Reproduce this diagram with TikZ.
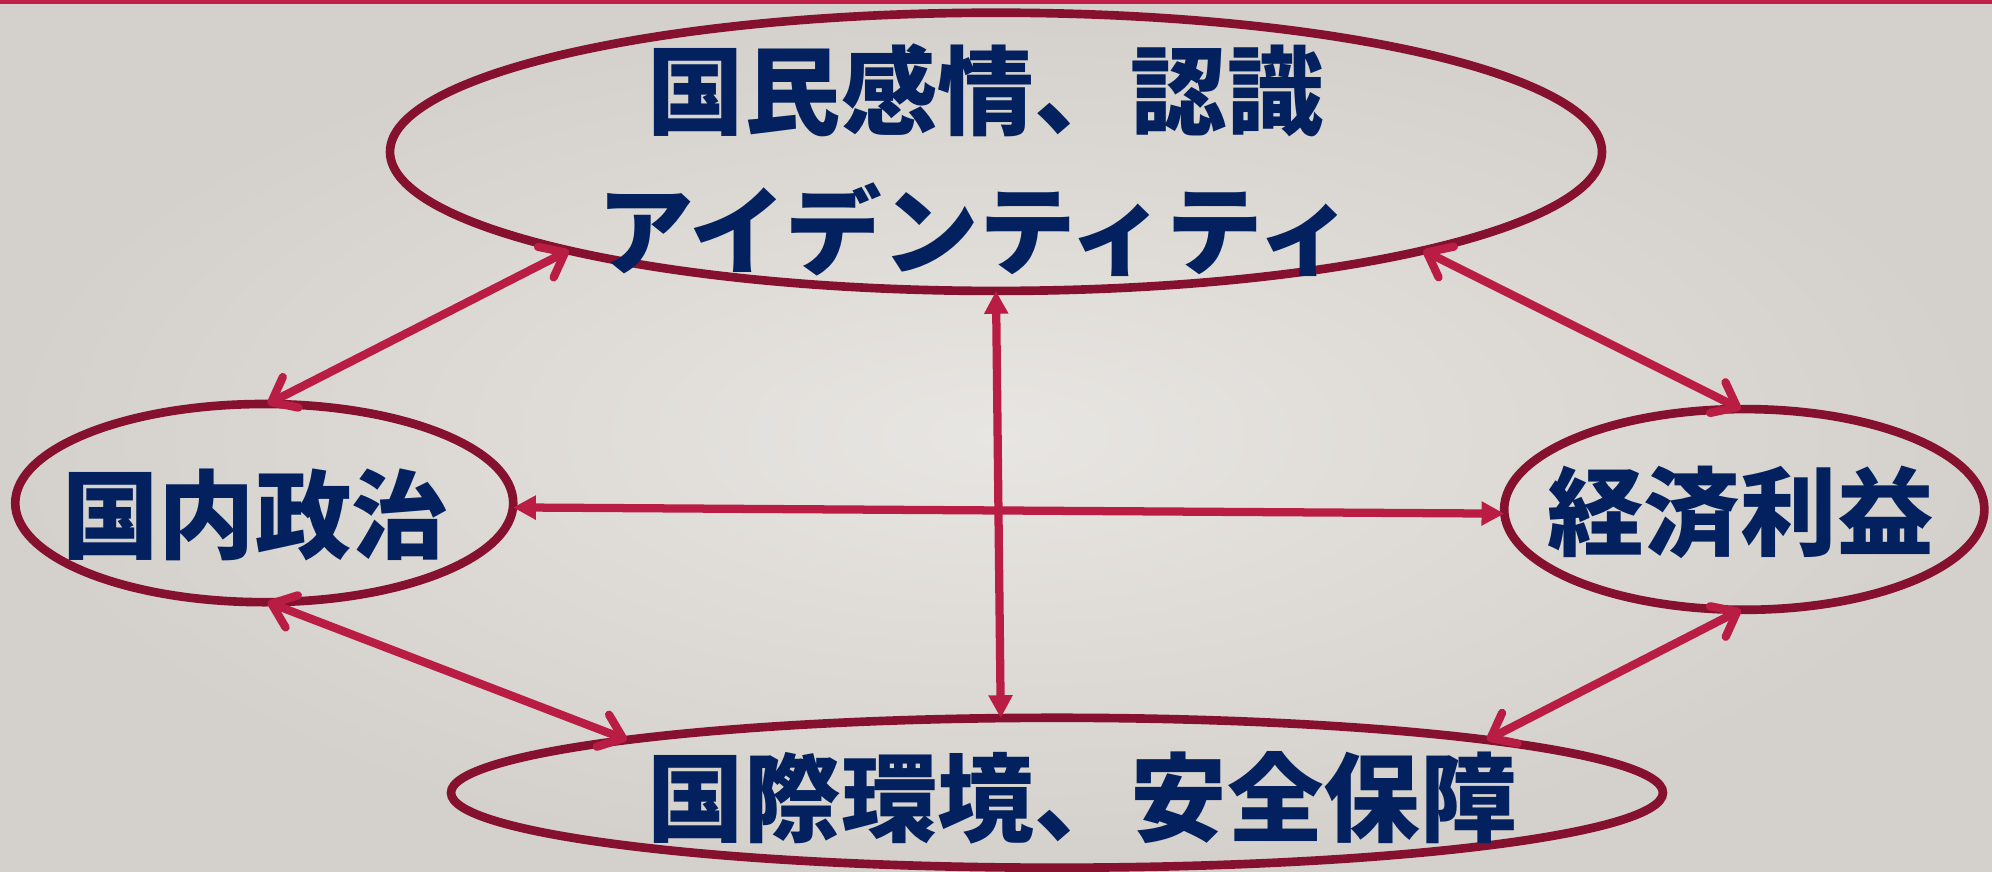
\documentclass[tikz,border=0pt]{standalone}
\usepackage{fontspec}
\newfontfamily\cjk{Noto Sans CJK JP}
\usetikzlibrary{shapes.geometric,arrows.meta}
\definecolor{bgin}{HTML}{E8E6E2}
\definecolor{bgout}{HTML}{D4D0CB}
\definecolor{ringc}{HTML}{85112F}
\definecolor{arrc}{HTML}{BA1D44}
\definecolor{txtc}{HTML}{03215F}
\definecolor{barc}{HTML}{C0204A}
\begin{document}
\begin{tikzpicture}[x=1pt,y=-1pt,
  ring/.style={ellipse,draw=ringc,line width=6.8pt,inner sep=0pt,outer sep=0pt},
  lbl/.style={text=txtc,font=\cjk\bfseries\fontsize{76}{110}\selectfont,inner sep=0pt,anchor=center},
  openarr/.style={draw=arrc,line width=6.5pt,{Straight Barb[round,length=17pt,width=27pt]}-{Straight Barb[round,length=17pt,width=27pt]}},
  fillarr/.style={draw=arrc,line width=6.5pt,{Triangle[length=18pt,width=18pt]}-{Triangle[length=18pt,width=18pt]}}]
\useasboundingbox (0,0) rectangle (1568,686);
\shade[inner color=bgin,outer color=bgout] (0,0) rectangle (1568,686);
\fill[barc] (0,0) rectangle (1568,3);
% ellipses
\node[ring,minimum width=954pt,minimum height=219pt] (top) at (784,119.5) {};
\node[ring,minimum width=392pt,minimum height=156pt] (left) at (208,396) {};
\node[ring,minimum width=378pt,minimum height=158pt] (right) at (1373,401) {};
\node[ring,minimum width=954pt,minimum height=118pt] (bottom) at (832,624) {};
% texts
\node[lbl] (t1) at (776,71) {国民感情、認識};
\node[lbl] (t2) at (768,181) {アイデンティティ};
\node[lbl] (t3) at (201,405) {国内政治};
\node[lbl] (t4) at (1370,403) {経済利益};
\node[lbl] (t5) at (852,628) {国際環境、安全保障};
% connectors
\draw[openarr] (left.88) -- (top.193);
\draw[openarr] (top.347) -- (right.92);
\draw[openarr] (left.272) -- (bottom.173);
\draw[openarr] (right.268) -- (bottom.7);
\draw[fillarr] (top.270) -- (bottom.127);
\draw[fillarr] (left.359) -- (right.181);
\end{tikzpicture}
\end{document}
